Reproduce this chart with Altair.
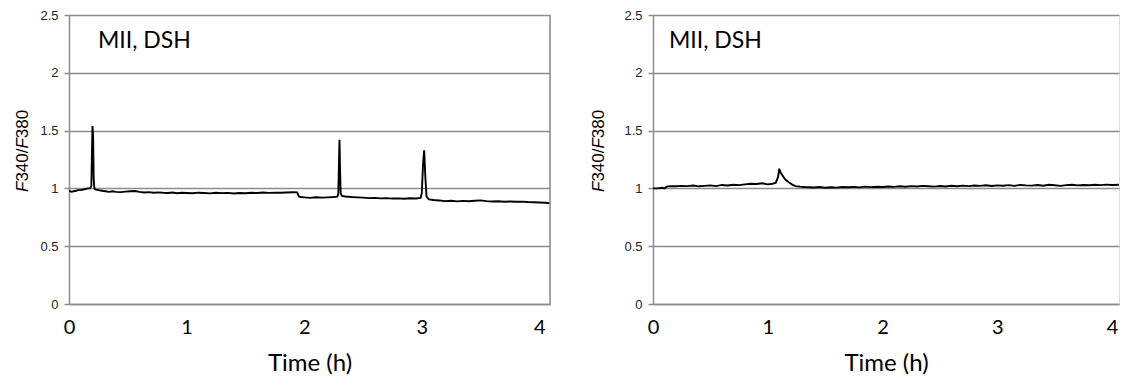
import altair as alt
import pandas as pd

# ---- data ----
left_time = [0.00, 0.02, 0.04, 0.06, 0.08, 0.10, 0.12, 0.14, 0.16, 0.18, 0.19, 0.195, 0.20, 0.205, 0.21, 0.215, 0.22, 0.23,
             0.25, 0.28, 0.31, 0.34, 0.37, 0.40, 0.44, 0.48, 0.52, 0.56, 0.60, 0.64, 0.68, 0.72, 0.76, 0.80, 0.84, 0.88,
             0.92, 0.96, 1.00, 1.05, 1.10, 1.15, 1.20, 1.25, 1.30, 1.35, 1.40, 1.45, 1.50, 1.55, 1.60, 1.65, 1.70, 1.75,
             1.80, 1.85, 1.90, 1.94, 1.955, 1.97, 2.00, 2.05, 2.10, 2.15, 2.20, 2.25, 2.28, 2.29, 2.295, 2.30, 2.305, 2.31,
             2.32, 2.35, 2.40, 2.45, 2.50, 2.55, 2.60, 2.65, 2.70, 2.75, 2.80, 2.85, 2.90, 2.95, 2.99, 3.00, 3.01, 3.02,
             3.03, 3.04, 3.06, 3.10, 3.15, 3.20, 3.25, 3.30, 3.35, 3.40, 3.45, 3.50, 3.55, 3.60, 3.65, 3.70, 3.75, 3.80,
             3.85, 3.90, 3.95, 4.00, 4.05, 4.09, 4.10]
left_ratio = [0.98, 0.97, 0.975, 0.98, 0.985, 0.985, 0.99, 0.995, 1.00, 1.00, 1.02, 1.30, 1.54, 1.45, 1.08, 1.01, 0.995, 0.99,
              0.985, 0.98, 0.975, 0.97, 0.975, 0.97, 0.968, 0.972, 0.975, 0.978, 0.970, 0.965, 0.968, 0.962, 0.966, 0.962, 0.960, 0.965,
              0.958, 0.962, 0.960, 0.958, 0.963, 0.960, 0.957, 0.962, 0.959, 0.961, 0.956, 0.960, 0.958, 0.962, 0.960, 0.964, 0.961, 0.963,
              0.962, 0.965, 0.967, 0.966, 0.93, 0.925, 0.922, 0.918, 0.924, 0.920, 0.922, 0.925, 0.928, 0.95, 1.20, 1.42, 1.15, 0.96,
              0.935, 0.93, 0.925, 0.922, 0.920, 0.916, 0.918, 0.914, 0.916, 0.912, 0.914, 0.911, 0.915, 0.913, 0.917, 0.96, 1.20, 1.33,
              1.10, 0.93, 0.905, 0.900, 0.895, 0.890, 0.893, 0.888, 0.892, 0.889, 0.893, 0.896, 0.890, 0.887, 0.889, 0.885, 0.887, 0.884,
              0.886, 0.882, 0.880, 0.878, 0.876, 0.872, 0.866]

right_time = [0.00, 0.04, 0.08, 0.10, 0.12, 0.15, 0.20, 0.25, 0.30, 0.35, 0.40, 0.45, 0.50, 0.55, 0.60, 0.65, 0.70, 0.75,
              0.80, 0.85, 0.90, 0.95, 1.00, 1.04, 1.07, 1.09, 1.10, 1.11, 1.13, 1.15, 1.18, 1.21, 1.24, 1.28, 1.32, 1.36,
              1.40, 1.45, 1.50, 1.55, 1.60, 1.65, 1.70, 1.75, 1.80, 1.85, 1.90, 1.95, 2.00, 2.05, 2.10, 2.15, 2.20, 2.25,
              2.30, 2.35, 2.40, 2.45, 2.50, 2.55, 2.60, 2.65, 2.70, 2.75, 2.80, 2.85, 2.90, 2.95, 3.00, 3.05, 3.10, 3.15,
              3.20, 3.25, 3.30, 3.35, 3.40, 3.45, 3.50, 3.55, 3.60, 3.65, 3.70, 3.75, 3.80, 3.85, 3.90, 3.95, 4.00, 4.06]
right_ratio = [1.00, 1.00, 1.005, 1.00, 1.015, 1.02, 1.018, 1.022, 1.02, 1.025, 1.018, 1.022, 1.026, 1.02, 1.03, 1.025, 1.032, 1.028,
               1.035, 1.04, 1.038, 1.045, 1.035, 1.04, 1.05, 1.10, 1.17, 1.14, 1.11, 1.08, 1.055, 1.035, 1.02, 1.015, 1.012, 1.010,
               1.008, 1.012, 1.006, 1.010, 1.007, 1.012, 1.010, 1.013, 1.009, 1.015, 1.011, 1.014, 1.012, 1.016, 1.013, 1.018, 1.014, 1.020,
               1.016, 1.022, 1.018, 1.015, 1.021, 1.017, 1.023, 1.019, 1.024, 1.020, 1.025, 1.022, 1.027, 1.021, 1.026, 1.023, 1.028, 1.022,
               1.030, 1.026, 1.024, 1.029, 1.023, 1.031, 1.027, 1.022, 1.028, 1.032, 1.026, 1.030, 1.027, 1.031, 1.028, 1.033, 1.030, 1.032]

x_ticks = [0, 1, 2, 3, 4]
y_ticks = [0, 0.5, 1, 1.5, 2, 2.5]
panel_label = "MII, DSH"
x_title = "Time (h)"
y_title_parts = [("F", "italic"), ("340/", "normal"), ("F", "italic"), ("380", "normal")]

GRID = "#8c8c8c"
LABEL_FONT = "Lato"
NUM_FONT = "Liberation Sans"
H = 289


def text_width(s, size):
    w = {"F": 0.611, "/": 0.278}
    return sum(w.get(c, 0.556) for c in s) * size


def panel(times, ratios, width, xmax, title_dx, label_dx, right_border):
    df = pd.DataFrame({"t": times, "v": ratios})
    base = alt.Chart(df)
    line = base.mark_line(color="black", strokeWidth=1.9, interpolate="linear", clip=True).encode(
        x=alt.X("t:Q", scale=alt.Scale(domain=[0, xmax], nice=False, zero=False),
                axis=alt.Axis(values=x_ticks, title=x_title, grid=False, ticks=False,
                              domainColor=GRID, domainWidth=1.5,
                              labelFont=LABEL_FONT, labelFontSize=20, labelColor="black",
                              labelPadding=13, labelFlush=False,
                              titleFont=LABEL_FONT, titleFontSize=24, titleFontWeight="normal",
                              titleColor="black", titlePadding=14)),
        y=alt.Y("v:Q", scale=alt.Scale(domain=[0, 2.5], nice=False),
                axis=alt.Axis(values=y_ticks, title=None, format="~g", grid=True,
                              gridColor=GRID, gridWidth=1.5, domainColor=GRID, domainWidth=1.5,
                              tickColor=GRID, tickSize=5, tickWidth=1.5,
                              labelFont=NUM_FONT, labelFontSize=13, labelColor="#222",
                              labelPadding=6)),
    )
    one = pd.DataFrame({"k": [0]})
    layers = [line]
    label = alt.Chart(one).mark_text(text=panel_label, font=LABEL_FONT, fontSize=23, align="left",
                                     baseline="middle", color="black").encode(
        x=alt.value(label_dx), y=alt.value(26))
    layers.append(label)
    # rotated y title with italic F
    y0 = 177
    for txt, style in y_title_parts:
        layers.append(alt.Chart(one).mark_text(text=txt, font=NUM_FONT, fontSize=17, fontStyle=style,
                                               angle=270, align="left", baseline="middle",
                                               color="black").encode(
            x=alt.value(title_dx), y=alt.value(y0)))
        y0 -= text_width(txt, 17)
    if right_border:
        layers.append(alt.Chart(one).mark_rule(color=GRID, strokeWidth=1.5).encode(
            x=alt.value(width), y=alt.value(0), y2=alt.value(H)))
    return alt.layer(*layers).properties(width=width, height=H)


left = panel(left_time, left_ratio, 481, 4.09, -46, 29, True)
right = panel(right_time, right_ratio, 466, 4.06, -54, 16, False)

chart = alt.hconcat(left, right, spacing=37).properties(
    padding={"left": 5, "top": 0, "right": 0, "bottom": 2}
).configure_view(stroke="transparent").configure(background="white")

chart.save("out.html", embed_options={"renderer": "svg", "actions": False})
